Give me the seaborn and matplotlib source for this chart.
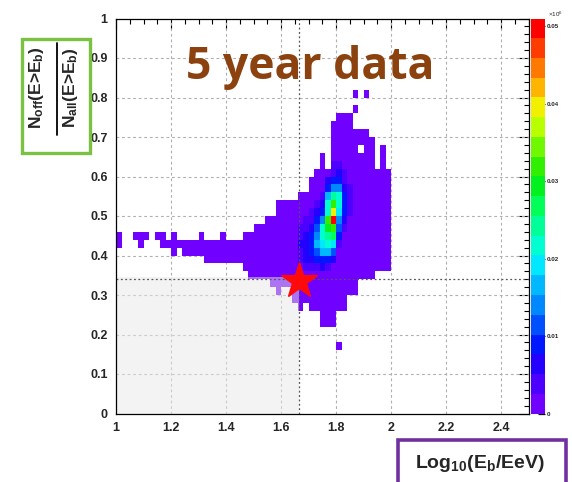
import numpy as np
import pandas as pd
import matplotlib
matplotlib.use("Agg")
import matplotlib.pyplot as plt
import seaborn as sns
from matplotlib.colors import ListedColormap
from matplotlib.patches import Rectangle
from matplotlib.lines import Line2D
from matplotlib.ticker import MultipleLocator, FixedLocator, FuncFormatter

# ---------------- data ----------------
bin_dx = 0.02
bin_dy = 0.02
# occupied column segments: left edge of x bin, lower and upper y
seg_x = [1.00, 1.06, 1.08, 1.10, 1.14, 1.16, 1.18, 1.20, 1.22, 1.24, 1.26, 1.28,
         1.30, 1.32, 1.34, 1.36, 1.38, 1.40, 1.42, 1.44, 1.46, 1.48, 1.50, 1.52,
         1.54, 1.56, 1.58, 1.60, 1.62, 1.64, 1.66, 1.68, 1.70, 1.72, 1.74, 1.76,
         1.78, 1.80, 1.80, 1.82, 1.84, 1.86, 1.86, 1.86, 1.88, 1.88, 1.90, 1.90,
         1.92, 1.94, 1.96, 1.98]
seg_ylo = [0.42, 0.44, 0.42, 0.44, 0.44, 0.42, 0.42, 0.40, 0.42, 0.40, 0.40, 0.40,
           0.40, 0.38, 0.38, 0.38, 0.38, 0.38, 0.38, 0.38, 0.36, 0.34, 0.34, 0.34,
           0.34, 0.32, 0.30, 0.32, 0.32, 0.28, 0.26, 0.28, 0.26, 0.26, 0.22, 0.22,
           0.22, 0.26, 0.16, 0.26, 0.30, 0.30, 0.76, 0.80, 0.34, 0.68, 0.34, 0.80,
           0.34, 0.36, 0.36, 0.36]
seg_yhi = [0.46, 0.46, 0.46, 0.46, 0.46, 0.46, 0.44, 0.46, 0.44, 0.44, 0.44, 0.44,
           0.46, 0.44, 0.44, 0.44, 0.46, 0.44, 0.44, 0.44, 0.46, 0.46, 0.48, 0.48,
           0.50, 0.50, 0.54, 0.54, 0.54, 0.54, 0.56, 0.56, 0.60, 0.62, 0.66, 0.62,
           0.74, 0.76, 0.18, 0.76, 0.76, 0.72, 0.78, 0.82, 0.66, 0.72, 0.72, 0.82,
           0.70, 0.62, 0.68, 0.62]
base_level = 0.001

# dense core: x bin left edge, y bin lower edge, value
hot_x = ([1.66] * 5 + [1.68] * 7 + [1.70] * 8 + [1.72] * 9 + [1.74] * 10
         + [1.76] * 12 + [1.78] * 13 + [1.80] * 11 + [1.82] * 8 + [1.84] * 4)
hot_y = [0.38, 0.40, 0.42, 0.44, 0.46,
         0.36, 0.38, 0.40, 0.42, 0.44, 0.46, 0.48,
         0.36, 0.38, 0.40, 0.42, 0.44, 0.46, 0.48, 0.50,
         0.36, 0.38, 0.40, 0.42, 0.44, 0.46, 0.48, 0.50, 0.52,
         0.36, 0.38, 0.40, 0.42, 0.44, 0.46, 0.48, 0.50, 0.52, 0.54,
         0.36, 0.38, 0.40, 0.42, 0.44, 0.46, 0.48, 0.50, 0.52, 0.54, 0.56, 0.58,
         0.38, 0.40, 0.42, 0.44, 0.46, 0.48, 0.50, 0.52, 0.54, 0.56, 0.58, 0.60, 0.62,
         0.42, 0.44, 0.46, 0.48, 0.50, 0.52, 0.54, 0.56, 0.58, 0.60, 0.62,
         0.46, 0.48, 0.50, 0.52, 0.54, 0.56, 0.58, 0.60,
         0.50, 0.52, 0.54, 0.56]
hot_w = [0.004, 0.005, 0.006, 0.005, 0.004,
         0.004, 0.006, 0.007, 0.007, 0.006, 0.005, 0.004,
         0.005, 0.007, 0.009, 0.010, 0.009, 0.007, 0.005, 0.004,
         0.005, 0.008, 0.012, 0.017, 0.015, 0.011, 0.008, 0.006, 0.004,
         0.006, 0.010, 0.016, 0.020, 0.022, 0.021, 0.014, 0.009, 0.006, 0.004,
         0.005, 0.009, 0.016, 0.021, 0.023, 0.029, 0.031, 0.022, 0.021, 0.016, 0.010, 0.006,
         0.006, 0.011, 0.018, 0.027, 0.033, 0.050, 0.040, 0.031, 0.024, 0.013, 0.008, 0.005, 0.004,
         0.005, 0.008, 0.012, 0.015, 0.018, 0.022, 0.021, 0.015, 0.009, 0.006, 0.004,
         0.004, 0.006, 0.008, 0.010, 0.009, 0.007, 0.005, 0.004,
         0.004, 0.005, 0.004, 0.004]

star_x, star_y = 1.667, 0.335
cut_x, cut_y = 1.667, 0.34
shade_top = 0.345

x_ticks = [1.0, 1.2, 1.4, 1.6, 1.8, 2.0, 2.2, 2.4]
y_ticks = [0, 0.1, 0.2, 0.3, 0.4, 0.5, 0.6, 0.7, 0.8, 0.9, 1.0]
cbar_ticks = [0, 0.01, 0.02, 0.03, 0.04, 0.05]
z_max = 0.051

band_colors = ['#7000ff', '#4c00ff', '#2400ff', '#0018ff', '#0050ff', '#0088ff',
               '#00b8ff', '#00e8ff', '#00ffd0', '#00ff98', '#00ff58', '#00f020',
               '#30f000', '#70f800', '#b8ff00', '#f0f000', '#ffb400', '#ff7800',
               '#ff3c00', '#ff0000']

# ------------- build table -------------
cells = {}
for xs, lo, hi in zip(seg_x, seg_ylo, seg_yhi):
    n = int(round((hi - lo) / bin_dy))
    for i in range(n):
        cells[(round(xs, 2), round(lo + i * bin_dy, 2))] = base_level
for xs, ys, w in zip(hot_x, hot_y, hot_w):
    cells[(round(xs, 2), round(ys, 2))] = w
df = pd.DataFrame([(k[0] + bin_dx / 2, k[1] + bin_dy / 2, v) for k, v in cells.items()],
                  columns=['x', 'y', 'w'])

x_edges = np.round(np.arange(0, 76) * bin_dx + 1.0, 4)
y_edges = np.round(np.arange(0, 51) * bin_dy, 4)

# ------------- figure -------------
sns.set_theme(style='white')
plt.rcParams['font.family'] = ['Liberation Sans', 'DejaVu Sans']
plt.rcParams['mathtext.fontset'] = 'custom'
plt.rcParams['mathtext.rm'] = 'Liberation Sans'
plt.rcParams['mathtext.bf'] = 'Liberation Sans:bold'
plt.rcParams['mathtext.it'] = 'Liberation Sans:italic'

W, H = 572, 482
fig = plt.figure(figsize=(W / 100, H / 100), dpi=100)
fig.patch.set_facecolor('white')

def fx(px):
    return px / W

def fy(py):
    return 1 - py / H

ax = fig.add_axes([fx(116), fy(413.5), fx(528.5) - fx(116), fy(18.5) - fy(413.5)])
cax = fig.add_axes([fx(531), fy(413.5), fx(545) - fx(531), fy(18.5) - fy(413.5)])

cmap = ListedColormap(band_colors)
sns.histplot(data=df, x='x', y='y', weights='w', bins=(x_edges, y_edges),
             cmap=cmap, vmin=0, vmax=z_max, cbar=True, cbar_ax=cax, ax=ax, zorder=2)

ax.set_xlim(1.0, 2.5)
ax.set_ylim(0, 1.0)
ax.set_xlabel('')
ax.set_ylabel('')

# grid
for xv in x_ticks[1:]:
    ax.axvline(xv, color='#b0b0b0', lw=0.8, ls=(0, (2.5, 2.5)), zorder=1)
for yv in y_ticks[1:-1]:
    ax.axhline(yv, color='#b0b0b0', lw=0.8, ls=(0, (2.5, 2.5)), zorder=1)

# shaded region and cut lines
ax.add_patch(Rectangle((1.0, 0), cut_x - 1.0, shade_top, facecolor='#e8e8e8',
                       alpha=0.5, edgecolor='none', zorder=3))
ax.axvline(cut_x, color='#555555', lw=0.9, ls=(0, (1.5, 2)), zorder=4)
ax.axhline(cut_y, color='#555555', lw=0.9, ls=(0, (1.5, 2)), zorder=4)
ax.plot([star_x], [star_y], marker='*', ms=27, color='#ff0a0a', mec='#ff0a0a', zorder=6)

# ticks
ax.xaxis.set_major_locator(FixedLocator(x_ticks))
ax.xaxis.set_minor_locator(MultipleLocator(0.05))
ax.yaxis.set_major_locator(FixedLocator(y_ticks))
ax.yaxis.set_minor_locator(MultipleLocator(0.02))
ax.xaxis.set_major_formatter(FuncFormatter(lambda v, p: f'{v:g}'))
ax.yaxis.set_major_formatter(FuncFormatter(lambda v, p: f'{v:g}'))
ax.tick_params(which='both', direction='in', top=True, right=True, color='black',
               width=0.8)
ax.tick_params(which='major', length=7, labelsize=9, pad=6)
ax.tick_params(which='minor', length=3.5)
for lab in ax.get_xticklabels() + ax.get_yticklabels():
    lab.set_fontweight('bold')
for s in ax.spines.values():
    s.set_color('black')
    s.set_linewidth(0.9)
    s.set_zorder(7)

# colorbar
cax.yaxis.set_major_locator(FixedLocator(cbar_ticks))
cax.yaxis.set_major_formatter(FuncFormatter(lambda v, p: f'{v:g}'))
cax.tick_params(direction='in', length=5, width=0.9, labelsize=4.5, pad=1.5,
                color='black')
for lab in cax.get_yticklabels():
    lab.set_fontweight('bold')
for s in cax.spines.values():
    s.set_visible(False)
fig.text(fx(548), fy(14), r'$\times10^{6}$', fontsize=4.5, fontweight='bold',
         ha='left', va='center')

# title
fig.text(fx(310), fy(79), '5 year data', fontsize=32, fontweight='bold',
         color='#8b420e', ha='center', va='baseline', family=['Open Sans', 'DejaVu Sans'])

# y label box
fig.patches.append(Rectangle((fx(22), fy(153)), fx(90) - fx(22), fy(39) - fy(153),
                             transform=fig.transFigure, fill=False,
                             edgecolor='#7cc242', lw=2.4))
fig.text(fx(37), fy(88), r'N$_{\mathbf{off}}$(E>E$_{\mathbf{b}}$)', rotation=90,
         fontsize=12.5, fontweight='bold', ha='center', va='center')
fig.text(fx(70), fy(88), r'N$_{\mathbf{all}}$(E>E$_{\mathbf{b}}$)', rotation=90,
         fontsize=12.5, fontweight='bold', ha='center', va='center')
fig.lines.append(Line2D([fx(57), fx(57)], [fy(43), fy(135)], transform=fig.transFigure,
                        color='black', lw=1.3))

# x label box
fig.patches.append(Rectangle((fx(398), fy(486)), fx(566) - fx(398), fy(440) - fy(486),
                             transform=fig.transFigure, fill=False,
                             edgecolor='#7030a0', lw=2.6, clip_on=False))
fig.text(fx(480), fy(463), r'Log$_{\mathbf{10}}$(E$_{\mathbf{b}}$/EeV)', fontsize=14,
         fontweight='bold', ha='center', va='center')

fig.savefig('out.png', dpi=100)
